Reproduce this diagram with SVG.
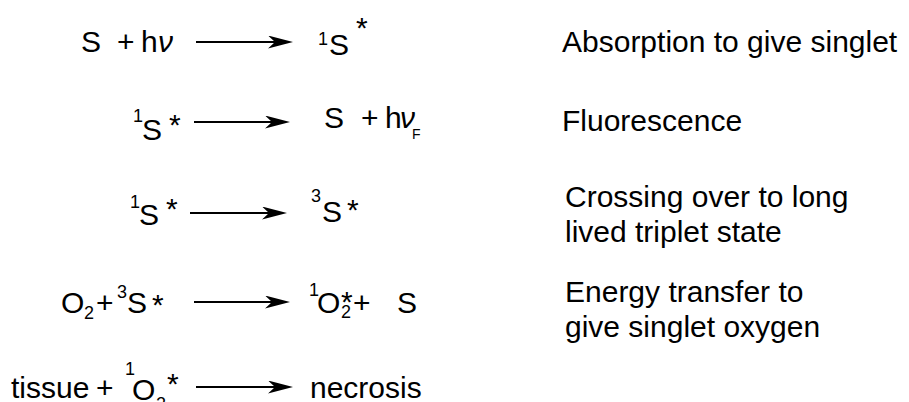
<svg xmlns="http://www.w3.org/2000/svg" width="909" height="402" viewBox="0 0 909 402">
  <defs>
    <style>
      text { font-family: "Liberation Sans", Arial, Helvetica, sans-serif; fill: #000; }
      .m { font-size: 30px; }
      .s { font-size: 18px; }
      .f { font-size: 14px; }
      .nu { font-style: italic; }
      .lbl { font-size: 30px; }
      .arrow { stroke: #000; stroke-width: 2.2; fill: none; marker-end: url(#head); }
    </style>
    <marker id="head" markerUnits="userSpaceOnUse" markerWidth="25" markerHeight="13" viewBox="0 0 25 13" refX="15" refY="6.5" orient="auto">
      <path d="M0,0 L25,6.5 L0,13 L7,6.5 Z" fill="#000"/>
    </marker>
  </defs>
  <rect width="909" height="402" fill="#fff"/>

  <!-- reaction arrows -->
  <g id="connectors">
    <line class="arrow" x1="196" y1="42" x2="283" y2="42"/>
    <line class="arrow" x1="194" y1="122" x2="280" y2="122"/>
    <line class="arrow" x1="190" y1="213" x2="277" y2="213"/>
    <line class="arrow" x1="194" y1="302" x2="280" y2="302"/>
    <line class="arrow" x1="196" y1="387" x2="283" y2="387"/>
  </g>

  <!-- absorption -->
  <g id="r1-left">
    <text class="m" x="81" y="52">S</text>
    <text class="m" x="117" y="52">+</text>
    <text class="m" x="141" y="52">h</text>
    <text class="m nu" x="158" y="52">ν</text>
  </g>
  <g id="r1-right">
    <text class="s" x="318" y="45">1</text>
    <text class="m" x="329" y="55">S</text>
    <text class="m" x="356" y="38">*</text>
  </g>

  <!-- fluorescence -->
  <g id="r2-left">
    <text class="s" x="133" y="122">1</text>
    <text class="m" x="142" y="140">S</text>
    <text class="m" x="169" y="135">*</text>
  </g>
  <g id="r2-right">
    <text class="m" x="324" y="128">S</text>
    <text class="m" x="361" y="128">+</text>
    <text class="m" x="385" y="128">h</text>
    <text class="m nu" x="400" y="128">ν</text>
    <text class="f" x="412" y="139">F</text>
  </g>

  <!-- intersystem crossing -->
  <g id="r3-left">
    <text class="s" x="130" y="208">1</text>
    <text class="m" x="139" y="225">S</text>
    <text class="m" x="166" y="219">*</text>
  </g>
  <g id="r3-right">
    <text class="s" x="311" y="202">3</text>
    <text class="m" x="322" y="222">S</text>
    <text class="m" x="347" y="220">*</text>
  </g>

  <!-- energy transfer -->
  <g id="r4-left">
    <text class="m" x="61" y="313">O</text>
    <text class="s" x="84" y="319">2</text>
    <text class="m" x="96" y="313">+</text>
    <text class="s" x="117" y="298">3</text>
    <text class="m" x="127" y="313">S</text>
    <text class="m" x="152" y="315">*</text>
  </g>
  <g id="r4-right">
    <text class="s" x="309" y="296">1</text>
    <text class="m" x="317" y="313">O</text>
    <text class="m" x="341" y="312">*</text>
    <text class="s" x="341" y="318">2</text>
    <text class="m" x="353" y="313">+</text>
    <text class="m" x="397" y="313">S</text>
  </g>

  <!-- necrosis -->
  <g id="r5-left">
    <text class="m" x="11" y="398">tissue</text>
    <text class="m" x="96" y="398">+</text>
    <text class="s" x="125" y="375">1</text>
    <text class="m" x="132" y="400">O</text>
    <text class="s" x="156" y="410">2</text>
    <text class="m" x="167" y="394">*</text>
  </g>
  <g id="r5-right">
    <text class="m" x="310" y="398">necrosis</text>
  </g>

  <!-- descriptions -->
  <g id="labels">
    <text class="lbl" x="562" y="52">Absorption to give singlet</text>
    <text class="lbl" x="562" y="131">Fluorescence</text>
    <text class="lbl" x="565" y="207">Crossing over to long</text>
    <text class="lbl" x="565" y="242">lived triplet state</text>
    <text class="lbl" x="565" y="302">Energy transfer to</text>
    <text class="lbl" x="565" y="337">give singlet oxygen</text>
  </g>
</svg>
